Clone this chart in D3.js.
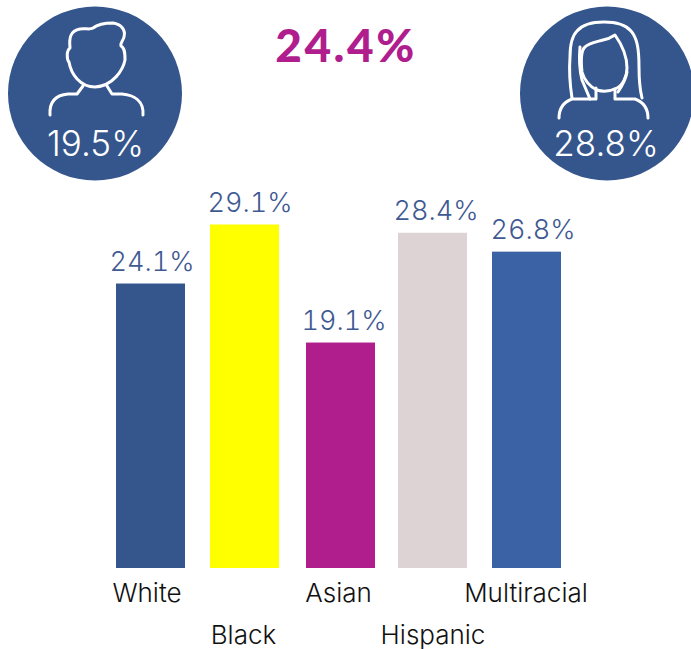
<!DOCTYPE html>
<html><head><meta charset="utf-8">
<script src="https://cdn.jsdelivr.net/npm/d3@7"></script>
<style>html,body{margin:0;padding:0;background:#fff}svg{display:block}
text{font-family:Inter,sans-serif}
text.val{font-feature-settings:"tnum" 1}</style></head><body><div id="c"></div>
<script>
const categories=["White","Black","Asian","Hispanic","Multiracial"];
const values=[24.1,29.1,19.1,28.4,26.8];
const barColors=["#35558D","#FFFF00","#B01E8E","#DDD3D5","#3C62A6"];
const overallLabel="24.4%";
const maleLabel="19.5%";
const femaleLabel="28.8%";

const W=691,H=649,base=568;
const svg=d3.select("#c").append("svg").attr("width",W).attr("height",H);
const y=d3.scaleLinear().domain([0,29.1]).range([base,224.5]);
const x=d3.scaleBand().domain(categories).range([69,608]).paddingInner(25/94).paddingOuter(0.5);
const nudge={Asian:2};
const bx=c=>x(c)+(nudge[c]||0);
const navy="#35558D";

const rows=categories.map((c,i)=>({c,v:values[i],col:barColors[i],i}));
svg.selectAll("rect.bar").data(rows).join("rect").attr("class","bar")
 .attr("x",d=>bx(d.c)).attr("width",x.bandwidth()).attr("y",d=>y(d.v)).attr("height",d=>base-y(d.v)).attr("fill",d=>d.col);
const labelCx={White:152,Black:250,Asian:344,Hispanic:436,Multiracial:533};
svg.selectAll("text.val").data(rows).join("text").attr("class","val")
 .attr("x",d=>labelCx[d.c]).attr("y",d=>y(d.v)-13).attr("text-anchor","middle")
 .attr("font-size",27).attr("font-weight",300).attr("fill","#3F5A93").text(d=>d.v.toFixed(1)+"%");
const catX={White:147,Black:243.5,Asian:338.5,Hispanic:433,Multiracial:526};
svg.selectAll("text.cat").data(rows).join("text").attr("class","cat")
 .attr("x",d=>catX[d.c]).attr("y",d=>d.i%2?644:602).attr("text-anchor","middle")
 .attr("font-size",26).attr("font-weight",300).attr("fill","#111").text(d=>d.c);

svg.append("text").attr("x",346).attr("y",62).attr("text-anchor","middle").attr("font-size",46)
 .style("font-family","Lato").style("letter-spacing","2.5px")
 .attr("font-weight",900).attr("fill","#B01E8E").text(overallLabel);

const stroke={fill:"none",stroke:"#fff","stroke-width":3,"stroke-linecap":"round","stroke-linejoin":"round"};
function st(s){Object.entries(stroke).forEach(([k,v])=>s.attr(k,v));return s;}

// male badge
const m=svg.append("g");
m.append("circle").attr("cx",95).attr("cy",93.5).attr("r",87).attr("fill",navy);
st(m.append("path")).attr("d","M70 48 C69 38 70 31 80 29 C85 28 90 30 93 28 C98 24 105 23 113 23 C121 24 126 30 124 37 C123 41 120 43 121 46 C125 48 125 54 125 60 C123 70 113 86 95 87 C80 87 71 74 69 62 C67 60 66 51 70 48 Z");
st(m.append("path")).attr("d","M83 86 L77 94 L68 94 C57 95 49 100 50 115");
st(m.append("path")).attr("d","M107 86 L112 94 L122 94 C134 95 144 101 143 115");
m.append("text").attr("x",95.5).attr("y",156).attr("text-anchor","middle").attr("font-size",35).attr("font-weight",300).attr("fill","#fff").text(maleLabel);

// female badge
const f=svg.append("g");
f.append("circle").attr("cx",607).attr("cy",93.5).attr("r",87).attr("fill",navy);
st(f.append("path")).attr("d","M572 98 C570 85 569 70 570 57 C570 44 572 36 577 31 C583 24 592 22 604 22 C616 22 625 24 631 31 C637 38 639 48 639 67 C639 80 640 90 642 98");
st(f.append("path")).attr("d","M559 118 C559 108 564 102 572 99 L596 99 L596 88");
st(f.append("path")).attr("d","M648 118 C648 108 643 102 635 99 L615 99 L615 89");
st(f.append("path")).attr("d","M582 72 C581 62 581 52 584 48 C588 43 596 42 603 40 C609 39 612 37 615 35 C620 42 627 55 627 68 C627 76 623 85 617 88 C611 91 603 92 597 90 C590 87 584 80 582 72 Z");
st(f.append("path")).attr("d","M580 47 C579 58 580 72 582 80 L590 99");
st(f.append("path")).attr("d","M627 72 C626 78 622 86 618 92");
f.append("text").attr("x",606).attr("y",156).attr("text-anchor","middle").attr("font-size",35).attr("font-weight",300).attr("fill","#fff").text(femaleLabel);
</script></body></html>
